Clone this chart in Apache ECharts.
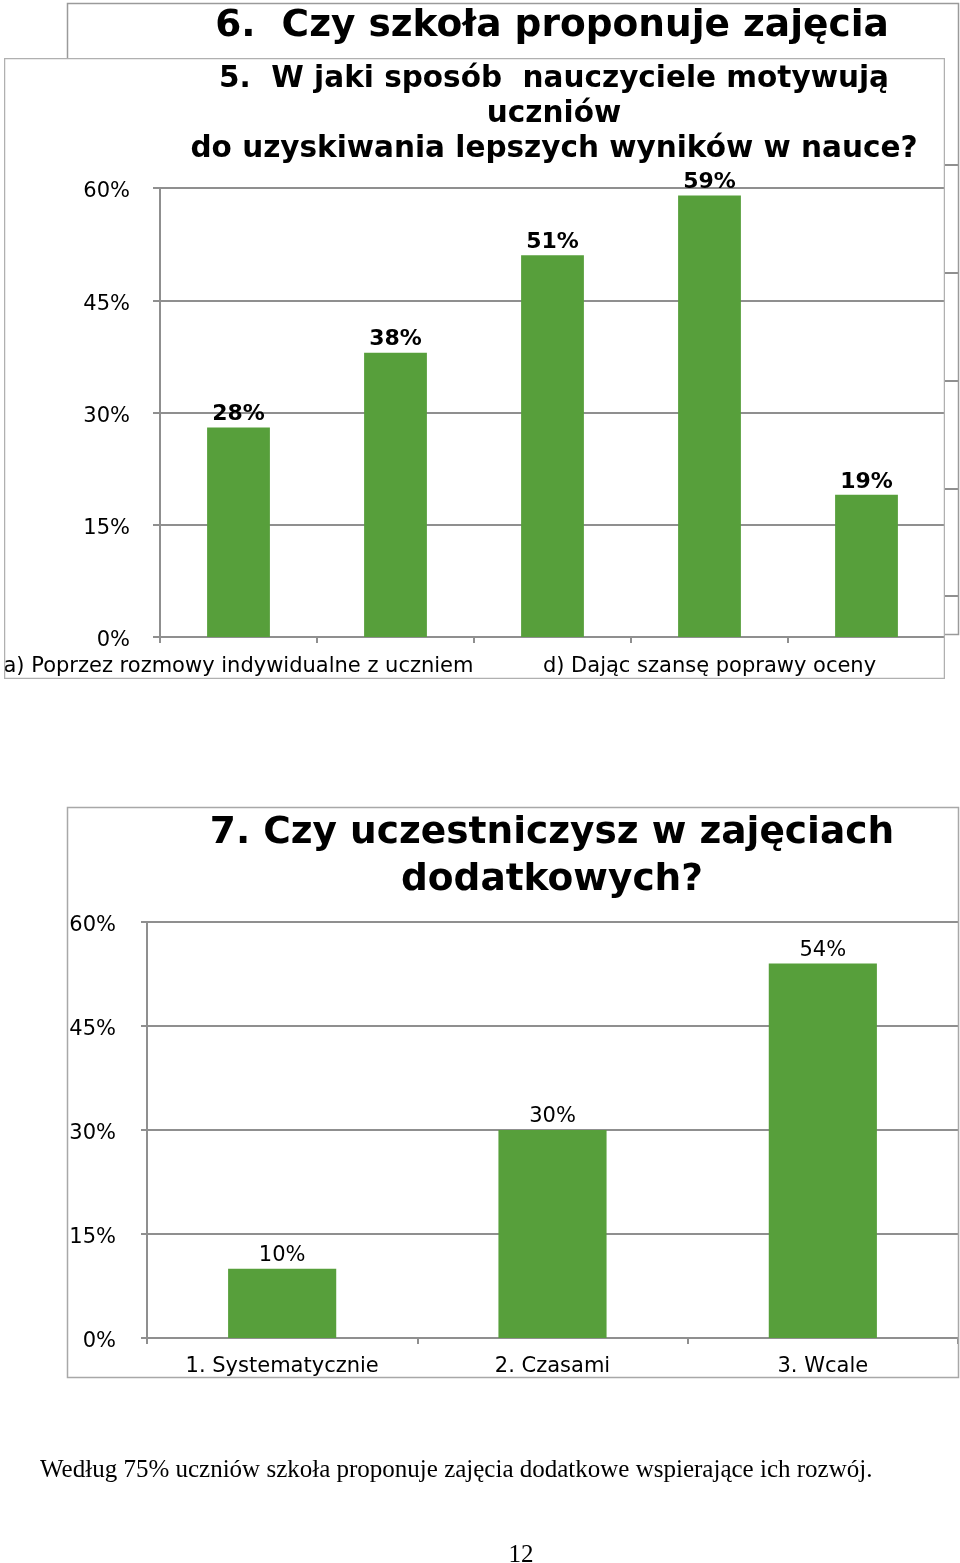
<!DOCTYPE html>
<html>
<head>
<meta charset="utf-8">
<script src="https://cdn.jsdelivr.net/npm/echarts@6/dist/echarts.min.js"></script>
<style>
  html, body { margin: 0; padding: 0; background: #fff; }
  #base { position: absolute; left: 0; top: 0; width: 960px; height: 1563px; }
  #q5 { position: absolute; left: 4px; top: 58px; width: 941px; height: 621px; }
</style>
</head>
<body>
<div id="base"></div>
<div id="q5"></div>
<script>
// ---- Data ----
const q5Title = ['5.  W jaki sposób  nauczyciele motywują', 'uczniów', 'do uzyskiwania lepszych wyników w nauce?'];
const q5Categories = ['a) Poprzez rozmowy indywidualne z uczniem', 'b)', 'c)', 'd) Dając szansę poprawy oceny', 'e)'];
const q5Values = [28, 38, 51, 59, 19];

const q6Title = ['6.  Czy szkoła proponuje zajęcia'];

const q7Title = ['7. Czy uczestniczysz w zajęciach', 'dodatkowych?'];
const q7Categories = ['1. Systematycznie', '2. Czasami', '3. Wcale'];
const q7Values = [10, 30, 54];

const yMax = 60, yStep = 15;
const footerText = 'Według 75% uczniów szkoła proponuje zajęcia dodatkowe wspierające ich rozwój.';
const pageNumber = '12';

// ---- Styles ----
const GREEN = '#579F3B';
const GRIDC = '#8f8f8f';
const FONT = 'DejaVu Sans';

function titleTexts(lines, cx, y0, lh, size) {
  return lines.map((t, i) => ({
    type: 'text', x: cx, y: y0 + i * lh, z: 10,
    style: { text: t, fill: '#000', font: 'bold ' + size + 'px "' + FONT + '"', textAlign: 'center', textVerticalAlign: 'middle' }
  }));
}
function pctLabel(margin) {
  return {
    margin: margin, color: '#000', fontFamily: FONT, fontSize: 21,
    formatter: v => '{p|' + v + '%}',
    rich: { p: { fontFamily: FONT, fontSize: 21, color: '#000', padding: [8, 0, 0, 0] } }
  };
}

// ---- Base: chart 6 (behind), chart 7, footer ----
const base = echarts.init(document.getElementById('base'), null, { renderer: 'canvas' });
base.setOption({
  backgroundColor: '#fff',
  animation: false,
  grid: [
    { left: 160, right: 1, top: 165, height: 431, outerBoundsMode: 'none', containLabel: false },
    { left: 147, right: 2, top: 922, height: 416, outerBoundsMode: 'none', containLabel: false }
  ],
  xAxis: [
    { gridIndex: 0, type: 'category', data: [''], show: false },
    {
      gridIndex: 1, type: 'category', data: q7Categories,
      axisLine: { lineStyle: { color: GRIDC, width: 2 } },
      axisTick: { show: true, length: 6, interval: 0, lineStyle: { color: GRIDC, width: 2 } },
      axisLabel: { interval: 0, margin: 18, color: '#000', fontFamily: FONT, fontSize: 21 }
    }
  ],
  yAxis: [
    {
      gridIndex: 0, type: 'value', min: 0, max: 4, interval: 1,
      axisLine: { show: false }, axisTick: { show: false }, axisLabel: { show: false },
      splitLine: { lineStyle: { color: GRIDC, width: 2 } }
    },
    {
      gridIndex: 1, type: 'value', min: 0, max: yMax, interval: yStep,
      axisLine: { show: true, lineStyle: { color: GRIDC, width: 2 } },
      axisTick: { show: true, length: 6, lineStyle: { color: GRIDC, width: 2 } },
      axisLabel: pctLabel(31),
      splitLine: { lineStyle: { color: GRIDC, width: 2 } }
    }
  ],
  series: [
    {
      type: 'bar', xAxisIndex: 1, yAxisIndex: 1, data: q7Values, barWidth: '40%',
      itemStyle: { color: GREEN },
      label: { show: true, position: 'top', distance: 3, color: '#000', fontFamily: FONT, fontSize: 21, formatter: '{c}%' }
    }
  ],
  graphic: [
    { type: 'rect', shape: { x: 67.5, y: 3.5, width: 891, height: 631 }, style: { fill: 'none', stroke: '#9a9a9a', lineWidth: 1.5 }, z: 5 },
    { type: 'rect', shape: { x: 67.5, y: 807.5, width: 891, height: 570 }, style: { fill: 'none', stroke: '#a8a8a8', lineWidth: 1.5 }, z: 5 },
    ...titleTexts(q6Title, 552, 26, 46, 37.5),
    ...titleTexts(q7Title, 552, 833, 47, 37.5),
    { type: 'text', x: 40, y: 1470, z: 10, style: { text: footerText, fill: '#000', font: '25px "Liberation Serif"', textAlign: 'left', textVerticalAlign: 'middle' } },
    { type: 'text', x: 521, y: 1555, z: 10, style: { text: pageNumber, fill: '#000', font: '25px "Liberation Serif"', textAlign: 'center', textVerticalAlign: 'middle' } }
  ]
});

// ---- Overlay: chart 5 ----
const c5 = echarts.init(document.getElementById('q5'), null, { renderer: 'canvas' });
c5.setOption({
  backgroundColor: '#fff',
  animation: false,
  grid: { left: 156, right: 0, top: 130, height: 449, outerBoundsMode: 'none', containLabel: false },
  xAxis: {
    type: 'category', data: q5Categories,
    axisLine: { lineStyle: { color: GRIDC, width: 2 } },
    axisTick: { show: true, length: 6, interval: 0, lineStyle: { color: GRIDC, width: 2 } },
    axisLabel: { interval: 2, margin: 19, color: '#000', fontFamily: FONT, fontSize: 21 }
  },
  yAxis: {
    type: 'value', min: 0, max: yMax, interval: yStep,
    axisLine: { show: true, lineStyle: { color: GRIDC, width: 2 } },
    axisTick: { show: true, length: 7, lineStyle: { color: GRIDC, width: 2 } },
    axisLabel: pctLabel(30),
    splitLine: { lineStyle: { color: GRIDC, width: 2 } }
  },
  series: [{
    type: 'bar', data: q5Values, barWidth: '40%',
    itemStyle: { color: GREEN },
    label: { show: true, position: 'top', distance: 2, color: '#000', fontFamily: FONT, fontWeight: 'bold', fontSize: 22, formatter: '{c}%' }
  }],
  graphic: [
    { type: 'rect', shape: { x: 0.5, y: 0.5, width: 940, height: 620 }, style: { fill: 'none', stroke: '#b0b0b0', lineWidth: 1.5 }, z: 5 },
    ...titleTexts(q5Title, 550, 21, 35, 29.5)
  ]
});
</script>
</body>
</html>
